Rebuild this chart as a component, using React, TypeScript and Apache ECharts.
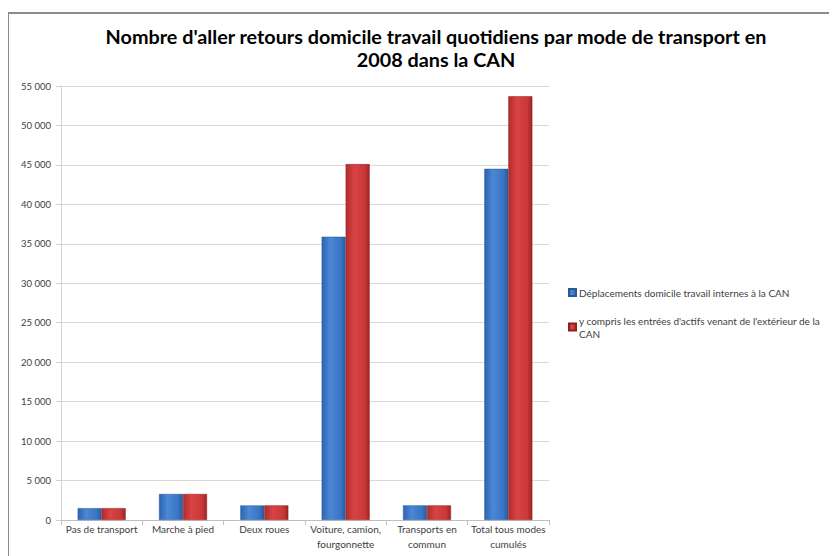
import React, { useEffect, useRef } from "react";
import * as echarts from "echarts";

const categories = [
  "Pas de transport",
  "Marche à pied",
  "Deux roues",
  "Voiture, camion,\nfourgonnette",
  "Transports en\ncommun",
  "Total tous modes\ncumulés",
];
const seriesNames = [
  "Déplacements domicile travail internes à la CAN",
  "y compris les entrées d'actifs venant de l'extérieur de la CAN",
];
const internes = [1500, 3300, 1850, 35900, 1850, 44500];
const avecEntrees = [1500, 3300, 1850, 45100, 1850, 53700];

const titleText =
  "Nombre d'aller retours domicile travail quotidiens par mode de transport en\n2008 dans la CAN";

const fontFamily = "Lato, 'Open Sans', sans-serif";

function blueGrad() {
  return new echarts.graphic.LinearGradient(0, 0, 1, 0, [
    { offset: 0, color: "#2D63AE" },
    { offset: 0.35, color: "#4A88D6" },
    { offset: 0.8, color: "#3A74C2" },
    { offset: 1, color: "#2A5A9E" },
  ]);
}
function redGrad() {
  return new echarts.graphic.LinearGradient(0, 0, 1, 0, [
    { offset: 0, color: "#B02C2C" },
    { offset: 0.35, color: "#D94343" },
    { offset: 0.8, color: "#C93838" },
    { offset: 1, color: "#A02424" },
  ]);
}

export default function App() {
  const ref = useRef<HTMLDivElement>(null);
  useEffect(() => {
    if (!ref.current) return;
    const chart = echarts.init(ref.current, undefined, { renderer: "svg" });
    chart.setOption({
      animation: false,
      backgroundColor: "#ffffff",
      color: ["#3C78C8", "#C83636"],
      graphic: [
        {
          type: "rect",
          shape: { x: 8, y: 13, width: 840, height: 560 },
          style: { fill: "none", stroke: "#8C8C8C", lineWidth: 2 },
          silent: true,
        },
      ],
      title: {
        text: titleText,
        left: 431,
        textAlign: "center",
        top: 19,
        textStyle: {
          fontFamily,
          fontSize: 19.8,
          fontWeight: "bold",
          color: "#000000",
          lineHeight: 23,
        },
      },
      legend: {
        orient: "vertical",
        left: 563,
        top: 281,
        itemWidth: 7,
        itemHeight: 7,
        itemGap: 15,
        icon: "rect",
        formatter: (name: string) =>
          name === seriesNames[1]
            ? "y compris les entrées d'actifs venant de l'extérieur de la\nCAN"
            : name,
        textStyle: {
          fontFamily,
          fontSize: 10,
          color: "#404040",
          lineHeight: 13,
          padding: [0, 0, 0, -2],
        },
        data: seriesNames,
      },
      grid: { left: 61, right: 288, top: 86, bottom: 36, containLabel: false },
      xAxis: {
        type: "category",
        data: categories,
        axisLine: { show: true, lineStyle: { color: "#BFBFBF" } },
        axisTick: { show: true, alignWithLabel: false, length: 5, lineStyle: { color: "#BFBFBF" } },
        axisLabel: {
          interval: 0,
          fontFamily,
          fontSize: 10,
          color: "#404040",
          lineHeight: 15,
          margin: 1,
        },
      },
      yAxis: {
        type: "value",
        min: 0,
        max: 55000,
        interval: 5000,
        axisLine: { show: true, lineStyle: { color: "#D0D0D0" } },
        axisTick: { show: true, length: 5, lineStyle: { color: "#D0D0D0" } },
        splitLine: { show: true, lineStyle: { color: "#D9D9D9" } },
        axisLabel: {
          fontFamily,
          fontSize: 9.5,
          color: "#404040",
          margin: 10,
          formatter: (v: number) =>
            String(v).replace(/\B(?=(\d{3})+(?!\d))/g, " "),
        },
      },
      series: [
        {
          name: seriesNames[0],
          type: "bar",
          data: internes,
          barWidth: 24,
          barGap: "0%",
          itemStyle: { color: blueGrad(), borderColor: "#2A5896", borderWidth: 0.5 },
        },
        {
          name: seriesNames[1],
          type: "bar",
          data: avecEntrees,
          barWidth: 24,
          barGap: "0%",
          itemStyle: { color: redGrad(), borderColor: "#8E2020", borderWidth: 0.5 },
        },
      ],
    });
    return () => chart.dispose();
  }, []);
  return <div ref={ref} style={{ width: 837, height: 556, marginLeft: -8, marginTop: -8 }} />;
}
